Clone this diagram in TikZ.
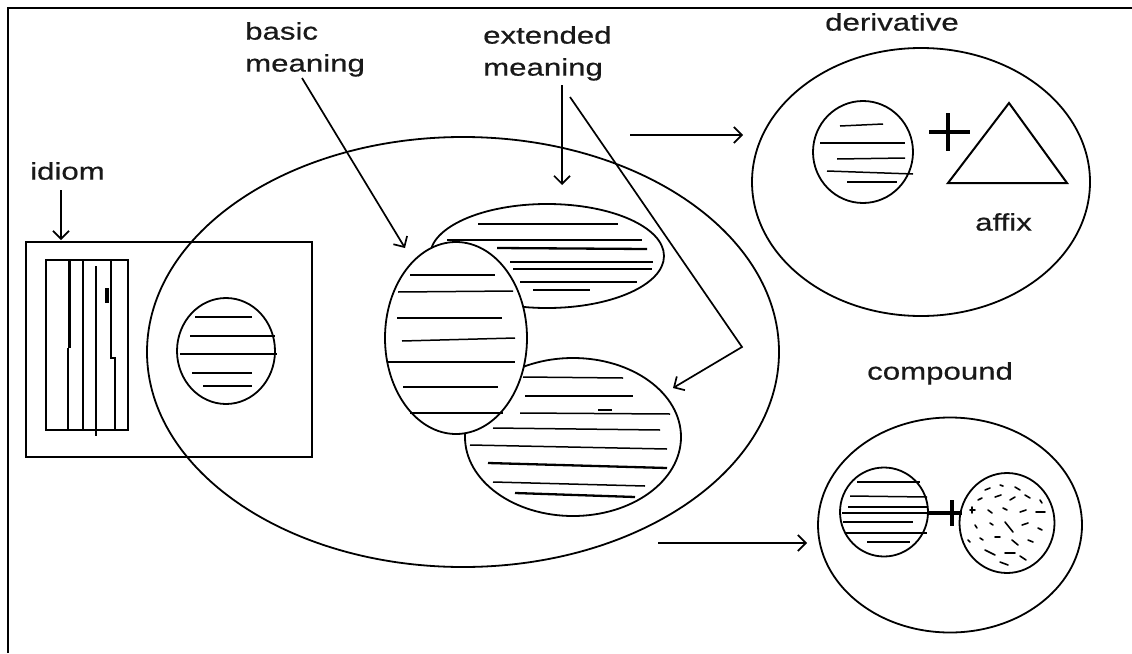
\documentclass[tikz,border=0pt]{standalone}
\usepackage{fontspec}
\usetikzlibrary{shapes.geometric,arrows.meta}
\newfontfamily\lblfamily{Liberation Sans}[FakeStretch=1.3,FakeBold=0.6]
\newcommand\lblfont{\lblfamily\fontsize{24}{32}\selectfont}

\tikzset{
  blob/.style={ellipse, draw, line width=1.8pt, inner sep=0pt, fill=white},
  box/.style={rectangle, draw, line width=1.6pt, inner sep=0pt},
  hatch/.style={line width=1.5pt},
  hatchb/.style={line width=2.3pt},
  lbl/.style={inner sep=0pt, anchor=north west, align=left, text=black!90, font=\lblfont},
  pointer/.style={line width=1.7pt, -{Straight Barb[length=8pt,width=16pt]}},
  plussign/.style={line width=3.2pt},
  speck/.style={line width=1.6pt, line cap=round}
}

\begin{document}
\begin{tikzpicture}[x=1pt,y=-1pt]
\useasboundingbox (0,0) rectangle (1132,653);

% page frame (top and left edges)
\draw[line width=2.4pt] (8,653) -- (8,8) -- (1132,8);

% ---------- labels ----------
\node[lbl] (idiomlbl) at (30,162) {idiom};
\node[lbl] (basiclbl) at (245,22) {basic\\meaning};
\node[lbl] (extlbl) at (483,26) {extended\\meaning};
\node[lbl] (derivlbl) at (825,13) {derivative};
\node[lbl] (affixlbl) at (975,213) {affix};
\node[lbl] (complbl) at (867,362) {compound};

% ---------- word family ----------
\node[blob, fill=none, minimum width=632pt, minimum height=430pt] (family) at (463,352) {};

% ---------- idiom ----------
\node[box, minimum width=286pt, minimum height=215pt] (idiombox) at (169,349.5) {};
\node[box, line width=2.1pt, minimum width=82pt, minimum height=170pt] (idiomcore) at (87,345) {};
\draw[line width=3pt] (69,260) -- (69,348);
\draw[line width=1.4pt] (68,348) -- (68,430);
\draw[line width=1.9pt] (83,260) -- (83,430);
\draw[line width=1.7pt] (96,266) -- (96,436);
\draw[line width=1.6pt] (111,260) -- (111,358) -- (115,358) -- (115,430);
\draw[line width=3.4pt] (107,288) -- (107,303);

\node[blob, minimum width=98pt, minimum height=106pt] (idiomsense) at (226,351) {};
\draw[hatch] (195,317) -- (252,317);
\draw[hatchb] (190,336) -- (275,336);
\draw[hatch] (180,354) -- (277,354);
\draw[hatch] (192,373) -- (252,373);
\draw[hatchb] (203,386) -- (252,386);

% ---------- extended meaning (lower) ----------
\node[blob, minimum width=216pt, minimum height=158pt] (extlow) at (573,437) {};
\draw[hatch] (523,377) -- (623,378);
\draw[hatchb] (525,396) -- (633,396);
\draw[hatch] (520,413) -- (670,414);
\draw[hatchb] (598,410) -- (612,410);
\draw[hatch] (493,428) -- (660,430);
\draw[hatch] (470,445) -- (667,449);
\draw[hatchb] (488,463) -- (667,468);
\draw[hatch] (493,482) -- (645,486);
\draw[hatchb] (515,493) -- (635,497);

% ---------- extended meaning (upper) ----------
\node[blob, minimum width=234pt, minimum height=104pt] (extup) at (547,256) {};
\draw[hatch] (478,224) -- (618,224);
\draw[hatch] (447,240) -- (642,240);
\draw[hatchb] (497,248) -- (647,249);
\draw[hatchb] (510,262) -- (653,262);
\draw[hatch] (513,269) -- (652,269);
\draw[hatchb] (520,282) -- (637,282);
\draw[hatch] (533,290) -- (590,290);

% ---------- basic meaning ----------
\node[blob, minimum width=142pt, minimum height=192pt] (basic) at (456,338) {};
\draw[hatch] (410,275) -- (495,275);
\draw[hatch] (398,292) -- (513,291);
\draw[hatch] (397,318) -- (502,318);
\draw[hatch] (402,341) -- (515,338);
\draw[hatchb] (388,362) -- (515,362);
\draw[hatchb] (403,387) -- (498,387);
\draw[hatch] (410,413) -- (503,413);

% ---------- derivative ----------
\node[blob, fill=none, minimum width=338pt, minimum height=268pt] (deriv) at (921,182) {};
\node[blob, minimum width=100pt, minimum height=102pt] (derivbase) at (863,152) {};
\draw[hatch] (840,126) -- (883,124);
\draw[hatch] (820,143) -- (905,143);
\draw[hatch] (837,159) -- (905,158);
\draw[hatch] (827,171) -- (913,174);
\draw[hatch] (847,182) -- (897,182);
\draw[plussign] (929,132) -- (970,132);
\draw[plussign] (948,113) -- (948,151);
\coordinate (affixtop) at (1009,103);
\coordinate (affixleft) at (948,183);
\coordinate (affixright) at (1067,183);
\draw[line width=2pt, line join=miter] (affixtop) -- (affixleft) -- (affixright) -- cycle;

% ---------- compound ----------
\node[blob, fill=none, minimum width=264pt, minimum height=215pt] (comp) at (950,525) {};
\node[blob, minimum width=88pt, minimum height=89pt] (compleft) at (884,512) {};
\draw[hatch] (857,482) -- (920,482);
\draw[hatch] (850,496) -- (927,497);
\draw[hatchb] (848,507) -- (927,507);
\draw[hatch] (842,513) -- (930,513);
\draw[hatch] (843,522) -- (913,522);
\draw[hatchb] (845,533) -- (927,533);
\draw[hatch] (867,542) -- (910,542);
\node[blob, minimum width=95pt, minimum height=100pt] (compright) at (1007,523) {};
\draw[plussign] (927,513) -- (962,513);
\draw[plussign] (952,500) -- (952,526);
% speckled texture of the second stem
\foreach \ax/\ay/\bx/\by in {
  985/490/990/488, 1000/485/1003/486, 1015/487/1020/490, 978/500/982/498,
  995/497/1001/495, 1010/500/1015/497, 1025/495/1030/498, 988/510/992/513,
  1003/508/1007/510, 1020/512/1026/510, 1036/512/1045/512, 975/525/977/528,
  990/523/993/525, 1005/522/1013/532, 1022/525/1028/523, 1038/528/1042/530,
  980/538/983/540, 995/537/1000/537, 1012/540/1018/545, 1028/540/1033/542,
  985/550/995/555, 1005/553/1015/553, 1020/556/1026/560, 1000/562/1008/565,
  970/510/975/510, 972/507/972/513, 1040/500/1042/503, 968/540/970/542}
  \draw[speck] (\ax,\ay) -- (\bx,\by);

% ---------- pointers ----------
\coordinate (idiomtail) at (61,190);
\coordinate (idiomtip) at (61,240);
\coordinate (basictail) at (302,78);
\coordinate (basictip) at (405,248);
\coordinate (exttail) at (562,85);
\coordinate (exttip) at (562,185);
\coordinate (ext2tail) at (570,97);
\coordinate (ext2bend) at (742,347);
\coordinate (ext2tip) at (673,388);
\coordinate (derivtail) at (630,135);
\coordinate (derivtip) at (743,135);
\coordinate (comptail) at (658,543);
\coordinate (comptip) at (807,543);

\draw[pointer] (idiomtail) -- (idiomtip);
\draw[pointer] (basictail) -- (basictip);
\draw[pointer] (exttail) -- (exttip);
\draw[pointer] (ext2tail) -- (ext2bend) -- (ext2tip);
\draw[pointer] (derivtail) -- (derivtip);
\draw[pointer] (comptail) -- (comptip);
\end{tikzpicture}
\end{document}
